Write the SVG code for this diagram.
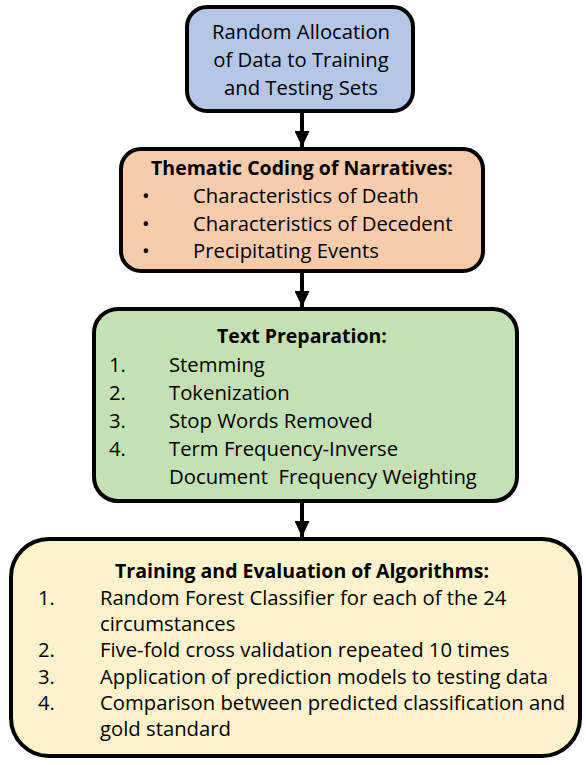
<svg xmlns="http://www.w3.org/2000/svg" width="586" height="765" viewBox="0 0 586 765">
<defs>
<style>
.box{stroke:#000;stroke-width:4}
.t{font-family:"Open Sans","Liberation Sans",sans-serif;font-size:20.3px;fill:#000}
.b{font-weight:bold;font-size:19.5px;text-anchor:middle}
.c{text-anchor:middle}
.conn{stroke:#000;stroke-width:4;fill:none}
</style>
<marker id="ah" viewBox="0 0 16 15" refX="16" refY="7.5" markerWidth="16" markerHeight="15" markerUnits="userSpaceOnUse" orient="auto">
<path d="M0,0 L16,7.5 L0,15 Z" fill="#000"/>
</marker>
</defs>
<rect width="586" height="765" fill="#fff"/>
<g id="connectors">
<line class="conn" x1="302" y1="113" x2="302" y2="147" marker-end="url(#ah)"/>
<line class="conn" x1="302" y1="273" x2="302" y2="307" marker-end="url(#ah)"/>
<line class="conn" x1="302" y1="503" x2="302" y2="537" marker-end="url(#ah)"/>
</g>
<g id="node1">
<rect class="box" x="187" y="7" width="226" height="104" rx="20" fill="#B4C7E7"/>
<text class="t c" x="301" y="39">Random Allocation</text>
<text class="t c" x="301" y="67">of Data to Training</text>
<text class="t c" x="301" y="95">and Testing Sets</text>
</g>
<g id="node2">
<rect class="box" x="121" y="149" width="362" height="122" rx="20" fill="#F8CBAD"/>
<text class="t b" x="302" y="175">Thematic Coding of Narratives:</text>
<text class="t" x="142" y="203">•</text>
<text class="t" x="193" y="203">Characteristics of Death</text>
<text class="t" x="142" y="231">•</text>
<text class="t" x="193" y="231">Characteristics of Decedent</text>
<text class="t" x="142" y="258">•</text>
<text class="t" x="193" y="258">Precipitating Events</text>
</g>
<g id="node3">
<rect class="box" x="94" y="309" width="423" height="192" rx="24" fill="#C5E0B4"/>
<text class="t b" x="302" y="343">Text Preparation:</text>
<text class="t" x="109" y="372">1.</text>
<text class="t" x="169" y="372">Stemming</text>
<text class="t" x="109" y="400">2.</text>
<text class="t" x="169" y="400">Tokenization</text>
<text class="t" x="109" y="428">3.</text>
<text class="t" x="169" y="428">Stop Words Removed</text>
<text class="t" x="109" y="456">4.</text>
<text class="t" x="169" y="456">Term Frequency-Inverse</text>
<text class="t" x="169" y="484" xml:space="preserve">Document  Frequency Weighting</text>
</g>
<g id="node4">
<rect class="box" x="11" y="539" width="569" height="217" rx="38" fill="#FFF2CC"/>
<text class="t b" x="302" y="578">Training and Evaluation of Algorithms:</text>
<text class="t" x="38" y="605">1.</text>
<text class="t" x="100" y="605">Random Forest Classifier for each of the 24</text>
<text class="t" x="100" y="631">circumstances</text>
<text class="t" x="38" y="657">2.</text>
<text class="t" x="100" y="657">Five-fold cross validation repeated 10 times</text>
<text class="t" x="38" y="684">3.</text>
<text class="t" x="100" y="684">Application of prediction models to testing data</text>
<text class="t" x="38" y="710">4.</text>
<text class="t" x="100" y="710">Comparison between predicted classification and</text>
<text class="t" x="100" y="736">gold standard</text>
</g>
</svg>
